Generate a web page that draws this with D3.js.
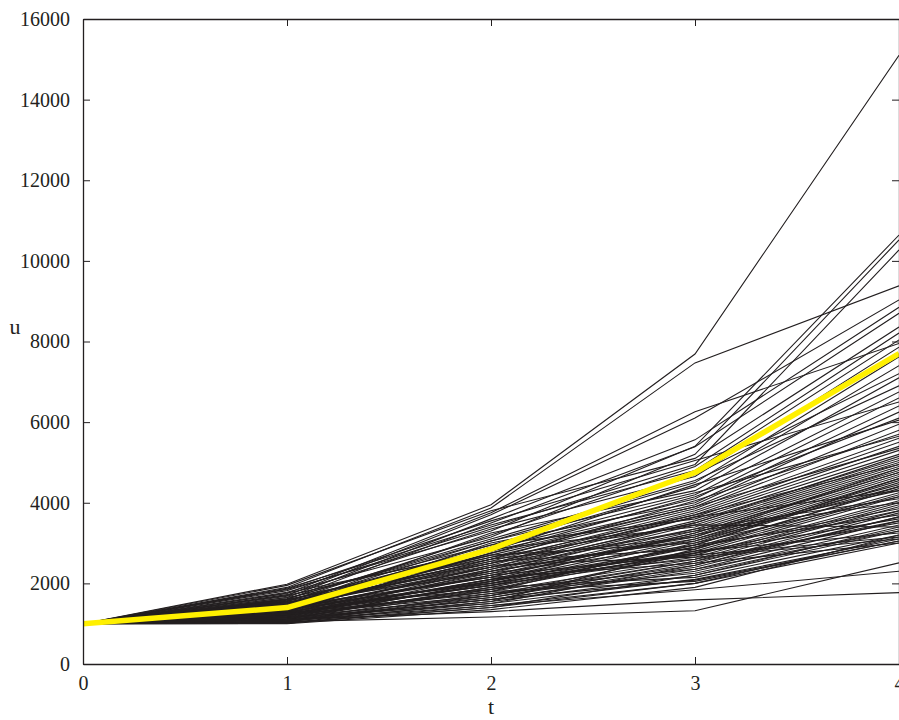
<!DOCTYPE html>
<html>
<head>
<meta charset="utf-8">
<script src="https://cdn.jsdelivr.net/npm/d3@7"></script>
<style>
  html, body { margin: 0; padding: 0; background: #fff; }
  svg { display: block; }
  svg text { font-family: 'Liberation Serif', 'Times New Roman', Times, serif; fill: #231f20; }
</style>
</head>
<body>
<svg id="chart" width="899" height="720"></svg>
<script>
// ---- data ----
const times = [0, 1, 2, 3, 4];
const startValue = 1000;
// each path: values at t = 1, 2, 3, 4 (t = 0 is startValue)
const paths = [
  [1980, 3950, 7690, 15100],
  [1900, 3870, 7470, 9380],
  [1850, 3300, 5400, 10640],
  [1780, 3150, 5200, 10520],
  [1820, 3400, 4950, 10270],
  [1750, 3750, 6260, 7950],
  [1700, 3700, 6100, 9030],
  [1650, 3600, 5560, 8850],
  [1600, 3500, 5390, 8700],
  [1950, 3800, 5100, 8360],
  [1550, 3200, 4900, 8210],
  [1880, 3450, 4800, 8040],
  [1720, 3350, 4650, 7860],
  [1500, 3050, 4500, 7620],
  [1680, 2950, 4400, 7400],
  [1450, 3250, 4300, 7100],
  [1620, 3100, 4550, 6900],
  [1400, 2900, 4200, 6750],
  [1580, 2850, 4100, 6600],
  [1350, 3000, 4000, 6400],
  [1760, 2800, 3950, 6250],
  [1300, 2750, 4150, 6100],
  [1520, 2700, 3900, 5950],
  [1480, 2650, 3850, 5800],
  [1420, 2600, 4050, 5700],
  [1380, 2550, 3800, 5600],
  [1600, 2500, 3750, 5500],
  [1250, 2450, 3700, 5400],
  [1330, 2400, 3650, 5300],
  [1460, 2950, 3600, 5200],
  [1200, 2350, 3550, 5100],
  [1540, 2300, 3500, 5050],
  [1280, 2250, 3450, 5000],
  [1700, 2850, 3400, 4950],
  [1160, 2200, 3350, 4900],
  [1390, 2500, 3300, 4850],
  [1440, 2150, 3250, 4800],
  [1220, 2100, 3200, 4750],
  [1650, 2600, 3150, 4700],
  [1100, 2050, 3100, 4650],
  [1360, 2000, 3050, 4600],
  [1500, 2700, 3000, 4550],
  [1260, 1950, 2950, 4500],
  [1180, 2300, 3100, 4450],
  [1420, 2400, 3050, 4400],
  [1120, 1900, 2900, 4350],
  [1310, 2200, 3200, 4300],
  [1560, 2550, 2850, 4250],
  [1080, 1850, 2800, 4200],
  [1240, 2100, 2750, 4150],
  [1340, 2350, 3350, 4100],
  [1150, 2000, 2700, 4050],
  [1470, 2450, 2650, 4000],
  [1210, 1800, 2600, 3950],
  [1060, 1750, 2550, 3900],
  [1290, 2050, 2900, 3850],
  [1400, 2150, 2500, 3800],
  [1130, 1700, 2450, 3750],
  [1520, 2250, 2950, 3700],
  [1040, 1650, 2400, 3650],
  [1230, 1950, 2750, 3600],
  [1370, 1850, 2350, 3550],
  [1190, 2100, 2600, 3500],
  [1090, 1600, 2300, 3450],
  [1600, 2650, 3450, 3400],
  [1270, 1750, 2250, 3350],
  [1020, 1550, 2200, 3300],
  [1410, 2000, 2800, 3250],
  [1140, 1900, 2150, 3200],
  [1320, 2200, 2700, 3150],
  [1070, 1500, 2100, 3100],
  [1250, 1800, 2050, 3050],
  [1170, 1650, 2500, 3000],
  [1010, 1450, 2000, 3000],
  [1300, 1950, 2650, 3100],
  [1480, 2500, 3650, 4300],
  [1200, 1850, 2950, 4600],
  [1050, 1700, 2550, 3550],
  [1380, 2300, 3150, 4850],
  [1110, 1600, 2350, 3300],
  [1530, 2400, 3500, 5150],
  [1270, 2050, 3250, 4750],
  [1030, 1400, 2200, 3400],
  [1440, 2750, 3900, 5350],
  [1160, 1500, 2450, 3650],
  [1350, 2150, 3300, 4000],
  [1090, 1550, 2850, 4400],
  [1620, 3050, 4250, 5650],
  [1230, 1700, 2750, 3800],
  [1000, 1350, 1900, 3200],
  [1420, 2600, 3700, 4950],
  [1190, 1800, 3000, 4150],
  [1570, 2800, 4450, 6050],
  [1300, 2900, 4700, 7200],
  [1860, 3550, 5050, 6500],
  [1050, 1165, 1320, 2510],
  [1100, 1300, 1590, 1770],
  [1070, 1450, 1840, 2300],
  [1130, 1600, 2080, 3050],
  [1010, 1400, 2000, 3150]
];
// highlighted (yellow) path, values at t = 0..4
const meanPath = [1000, 1400, 2850, 4750, 7700];
const xTicks = [0, 1, 2, 3, 4];
const yTicks = [0, 2000, 4000, 6000, 8000, 10000, 12000, 14000, 16000];

// ---- layout ----
const L = 83, R = 899, T = 19, B = 664;
const svg = d3.select("#chart");
const x = d3.scaleLinear().domain([0, 4]).range([L, R]);
const y = d3.scaleLinear().domain([0, 16000]).range([B, T]);

svg.append("defs").append("clipPath").attr("id", "clip")
  .append("rect").attr("x", L).attr("y", T).attr("width", R - L).attr("height", B - T);

const line = d3.line().x((d, i) => x(times[i])).y(d => y(d));

const g = svg.append("g").attr("clip-path", "url(#clip)");
g.selectAll("path.sim").data(paths).join("path")
  .attr("class", "sim")
  .attr("d", p => line([startValue, ...p]))
  .attr("fill", "none")
  .attr("stroke", "#231f20")
  .attr("stroke-width", 1.1);

g.append("path")
  .attr("d", line(meanPath))
  .attr("fill", "none")
  .attr("stroke", "#fff000")
  .attr("stroke-width", 5.5)
  .attr("stroke-linejoin", "round");

// ---- axes (inward ticks, box) ----
const tickLen = 7;
const axisColor = "#231f20";
const fontStack = "'Liberation Serif', 'Times New Roman', Times, serif";
const axL = svg.append("g").attr("transform", `translate(${L},0)`)
  .call(d3.axisLeft(y).tickValues(yTicks).tickSizeInner(-tickLen).tickSizeOuter(0).tickPadding(6 + tickLen).tickFormat(d3.format("d")));
const axR = svg.append("g").attr("transform", `translate(${R},0)`)
  .call(d3.axisRight(y).tickValues(yTicks).tickSizeInner(-tickLen).tickSizeOuter(0).tickFormat(""));
const axB = svg.append("g").attr("transform", `translate(0,${B})`)
  .call(d3.axisBottom(x).tickValues(xTicks).tickSizeInner(-tickLen).tickSizeOuter(0).tickPadding(5 + tickLen).tickFormat(d3.format("d")));
const axT = svg.append("g").attr("transform", `translate(0,${T})`)
  .call(d3.axisTop(x).tickValues(xTicks).tickSizeInner(-tickLen).tickSizeOuter(0).tickFormat(""));

[axL, axR, axB, axT].forEach(a => {
  a.attr("font-family", null).style("font-family", fontStack);
  a.select(".domain").attr("stroke", axisColor).attr("stroke-width", 1.3);
  a.selectAll(".tick line").attr("stroke", axisColor).attr("stroke-width", 1);
  a.selectAll("text").style("font-family", fontStack)
    .attr("font-size", 20).attr("fill", "#231f20");
});

// axis titles
svg.append("text").attr("x", 15).attr("y", 334).attr("text-anchor", "middle")
  .style("font-family", fontStack).attr("font-size", 22).text("u");
svg.append("text").attr("x", x(2)).attr("y", 714).attr("text-anchor", "middle")
  .style("font-family", fontStack).attr("font-size", 22).text("t");
</script>
</body>
</html>
